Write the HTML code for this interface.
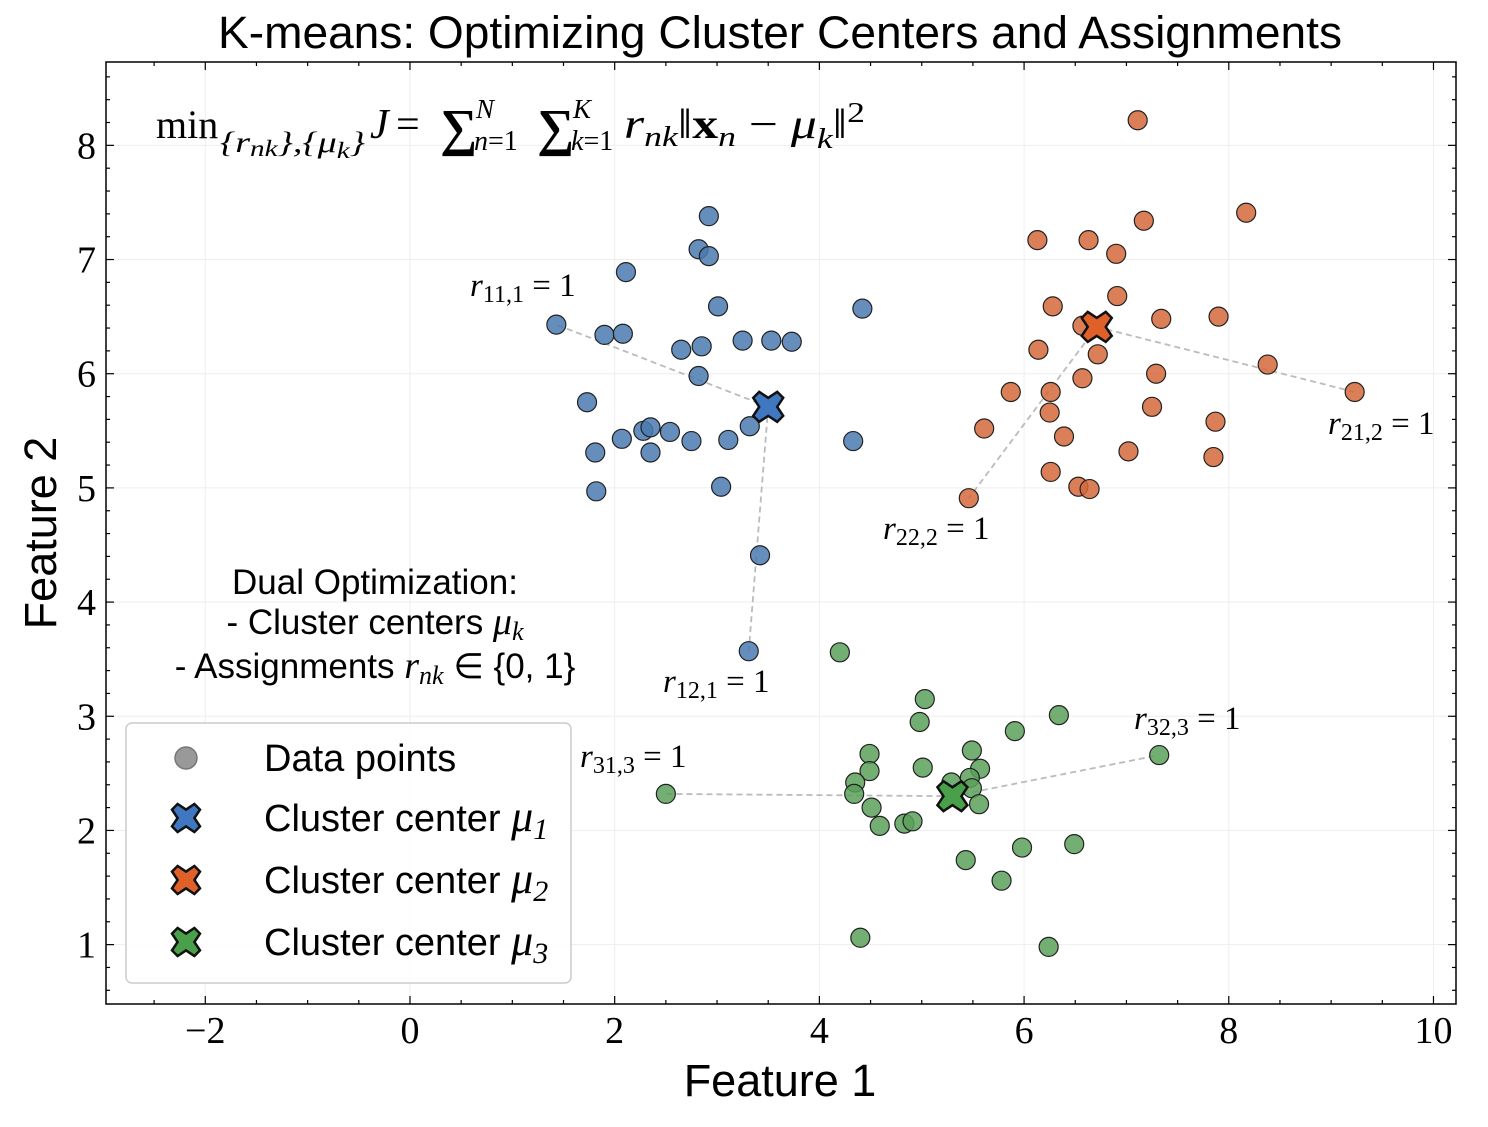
<!DOCTYPE html>
<html><head><meta charset="utf-8"><style>
body{margin:0;background:#fff}
svg text{font-family:"Liberation Serif",serif}
</style></head><body>
<svg id="chart" width="1488" height="1122" xmlns="http://www.w3.org/2000/svg">
<rect x="0" y="0" width="1488" height="1122" fill="#fff"/>
<text x="780" y="48" font-size="45" text-anchor="middle" style="font-family:'Liberation Sans',sans-serif" textLength="1124" lengthAdjust="spacingAndGlyphs">K-means: Optimizing Cluster Centers and Assignments</text>
<g id="grid"></g>
<g id="lines"></g>
<g id="pts"></g>
<g id="ctr"></g>
<g id="axes"></g>
<g id="ann"></g>
<g font-size="40">
<text x="156" y="138">min</text>
<text x="220" y="152" font-size="30" font-style="italic" textLength="145" lengthAdjust="spacingAndGlyphs">{r<tspan font-size="23" dy="4">nk</tspan><tspan dy="-4">},{μ</tspan><tspan font-size="23" dy="6">k</tspan><tspan dy="-6">}</tspan></text>
<text x="370" y="138" font-style="italic" font-size="42">J</text>
<text x="396" y="138" font-size="42">=</text>
<text x="440" y="145" font-size="52" font-weight="bold">∑</text>
<text x="476" y="118" font-size="27" font-style="italic">N</text>
<text x="474" y="150" font-size="28"><tspan font-style="italic">n</tspan>=1</text>
<text x="537" y="145" font-size="52" font-weight="bold">∑</text>
<text x="573" y="118" font-size="27" font-style="italic">K</text>
<text x="571" y="150" font-size="28"><tspan font-style="italic">k</tspan>=1</text>
<text x="624" y="138" font-size="42" textLength="241" lengthAdjust="spacingAndGlyphs"><tspan font-style="italic">r</tspan><tspan font-size="29" font-style="italic" dy="8">nk</tspan><tspan dy="-8">‖</tspan><tspan font-weight="bold">x</tspan><tspan font-size="29" font-style="italic" dy="8">n</tspan><tspan dy="-8"> − </tspan><tspan font-style="italic">μ</tspan><tspan font-size="29" font-style="italic" dy="10">k</tspan><tspan dy="-10">‖</tspan><tspan font-size="29" dy="-16">2</tspan></text>
</g>
<g font-size="35" text-anchor="middle">
<text x="375" y="594" style="font-family:'Liberation Sans',sans-serif">Dual Optimization:</text>
<text x="375" y="634" style="font-family:'Liberation Sans',sans-serif">- Cluster centers <tspan font-style="italic" style="font-family:'Liberation Serif',serif" font-size="38">μ<tspan font-size="26" dy="6">k</tspan></tspan></text>
<text x="375" y="678" style="font-family:'Liberation Sans',sans-serif">- Assignments <tspan font-style="italic" style="font-family:'Liberation Serif',serif" font-size="38">r<tspan font-size="26" dy="6">nk</tspan></tspan><tspan dy="-6"> ∈ {0, 1}</tspan></text>
</g>
<g>
<rect x="126" y="723" width="445" height="260" rx="6" fill="#fff" fill-opacity="0.85" stroke="#ccc" stroke-width="1.5"/>
<circle cx="186" cy="758" r="11" fill="#999" stroke="#777" stroke-width="1.5"/>
<text x="264" y="771" font-size="38" style="font-family:'Liberation Sans',sans-serif">Data points</text>
<g id="legx"></g>
</g>
<text x="780" y="1096" font-size="45" text-anchor="middle" style="font-family:'Liberation Sans',sans-serif">Feature 1</text>
<text transform="translate(56,533) rotate(-90)" font-size="45" text-anchor="middle" style="font-family:'Liberation Sans',sans-serif">Feature 2</text>
</svg>
<script>
const blueX=[1.43,2.92,2.82,2.92,2.11,3.01,1.90,2.08,2.65,2.85,3.25,3.53,3.73,4.42,2.82,1.73,2.28,2.35,2.54,2.07,2.75,3.11,3.32,1.81,2.35,4.33,1.82,3.04,3.42,3.31];
const blueY=[6.43,7.38,7.09,7.03,6.89,6.59,6.34,6.35,6.21,6.24,6.29,6.29,6.28,6.57,5.98,5.75,5.50,5.53,5.49,5.43,5.41,5.42,5.54,5.31,5.31,5.41,4.97,5.01,4.41,3.57];
const orangeX=[7.11,7.17,8.17,6.13,6.63,6.90,6.91,6.28,6.57,6.72,7.34,7.90,6.14,8.38,9.23,6.57,7.29,5.87,6.26,6.25,7.25,7.87,5.61,6.39,7.02,7.85,6.26,6.53,6.64,5.46];
const orangeY=[8.22,7.34,7.41,7.17,7.17,7.05,6.68,6.59,6.42,6.17,6.48,6.50,6.21,6.08,5.84,5.96,6.00,5.84,5.84,5.66,5.71,5.58,5.52,5.45,5.32,5.27,5.14,5.01,4.99,4.91];
const greenX=[4.20,5.03,6.34,4.98,5.91,4.49,5.49,7.32,5.01,5.57,4.49,5.47,4.35,5.29,5.49,2.50,4.34,5.56,4.51,4.59,4.83,4.91,5.98,6.49,5.43,5.78,4.40,6.24];
const greenY=[3.56,3.15,3.01,2.95,2.87,2.67,2.70,2.66,2.55,2.54,2.52,2.46,2.42,2.42,2.37,2.32,2.32,2.23,2.20,2.04,2.06,2.08,1.85,1.88,1.74,1.56,1.06,0.98];
const centersX=[3.50,6.71,5.30];
const centersY=[5.71,6.41,2.30];
const xTicks=[-2,0,2,4,6,8,10];
const yTicks=[1,2,3,4,5,6,7,8];
const annTargets=[[0,0],[0,29],[1,14],[1,29],[2,15],[2,7]];
const annLabels=[["11,1",470,296],["12,1",663,692],["21,2",1328,434],["22,2",883,539],["31,3",580,767],["32,3",1134,729]];
const X0=106,X1=1456,Y0=62,Y1=1004,xmin=-2.97,xmax=10.22,ymin=0.48,ymax=8.73;
const sx=v=>X0+(v-xmin)/(xmax-xmin)*(X1-X0);
const sy=v=>Y1-(v-ymin)/(ymax-ymin)*(Y1-Y0);
const NS="http://www.w3.org/2000/svg";
function mk(p,t,a){const e=document.createElementNS(NS,t);for(const k in a)e.setAttribute(k,a[k]);document.getElementById(p).appendChild(e);return e;}
const fills=["#4a7ab0","#d4683a","#5aa05a"],cfills=["#3f78c0","#e0602a","#4aa04a"];
xTicks.forEach(v=>{const e=mk('grid','line',{x1:sx(v),x2:sx(v),y1:Y0,y2:Y1,stroke:'#eee','stroke-width':1});

});
yTicks.forEach(v=>{const e=mk('grid','line',{x1:X0,x2:X1,y1:sy(v),y2:sy(v),stroke:'#eee','stroke-width':1});

});
const sets=[[blueX,blueY],[orangeX,orangeY],[greenX,greenY]];
annTargets.forEach(([c,i])=>{const e=mk('lines','line',{x1:sx(centersX[c]),y1:sy(centersY[c]),x2:sx(sets[c][0][i]),y2:sy(sets[c][1][i]),stroke:'#bbb','stroke-width':1.8,'stroke-dasharray':'6,4'});

});
sets.forEach(([xs,ys],c)=>xs.forEach((x,i)=>{const e=mk('pts','circle',{cx:sx(x),cy:sy(ys[i]),r:9.5,fill:fills[c],'fill-opacity':0.85,stroke:'#222','stroke-width':1.2});

}));
function xmark(p,cx,cy,s,fill){const d=`M${-s},${-s+s*0.4}L${-s+s*0.4},${-s}L0,${-s*0.6}L${s-s*0.4},${-s}L${s},${-s+s*0.4}L${s*0.6},0L${s},${s-s*0.4}L${s-s*0.4},${s}L0,${s*0.6}L${-s+s*0.4},${s}L${-s},${s-s*0.4}L${-s*0.6},0Z`;
return mk(p,'path',{d,transform:`translate(${cx},${cy})`,fill,stroke:'#111','stroke-width':2.5,'stroke-linejoin':'miter'});}
centersX.forEach((x,c)=>{const e=xmark('ctr',sx(x),sy(centersY[c]),15,cfills[c]);

});
[0,1,2].forEach(c=>{const cy=818+c*62;const e=xmark('legx',186,cy,14,cfills[c]);


const t=mk('legx','text',{x:264,y:cy+13,'font-size':38,style:"font-family:'Liberation Sans',sans-serif"});


t.innerHTML=`Cluster center <tspan font-style="italic" style="font-family:'Liberation Serif',serif" font-size="44">μ<tspan font-size="30" dy="8">${c+1}</tspan></tspan>`;});
const fr=mk('axes','rect',{x:X0,y:Y0,width:X1-X0,height:Y1-Y0,fill:'none',stroke:'#000','stroke-width':1.5});


for(let v=-2.5;v<=10.01;v+=0.5){const major=xTicks.includes(v);const L=major?8:4;
mk('axes','line',{x1:sx(v),x2:sx(v),y1:Y1,y2:Y1-L,stroke:'#000','stroke-width':1.2});
mk('axes','line',{x1:sx(v),x2:sx(v),y1:Y0,y2:Y0+L,stroke:'#000','stroke-width':1.2});}
for(let v=0.6;v<=8.61;v+=0.2){const r=Math.round(v*10)/10;const major=yTicks.includes(r);const L=major?8:4;
mk('axes','line',{x1:X0,x2:X0+L,y1:sy(r),y2:sy(r),stroke:'#000','stroke-width':1.2});
mk('axes','line',{x1:X1,x2:X1-L,y1:sy(r),y2:sy(r),stroke:'#000','stroke-width':1.2});}
xTicks.forEach(v=>{const t=mk('axes','text',{x:sx(v),y:1043,'font-size':38,'text-anchor':'middle'});t.textContent=v<0?'−'+(-v):v;

});
yTicks.forEach(v=>{const t=mk('axes','text',{x:96,y:sy(v)+13,'font-size':38,'text-anchor':'end'});t.textContent=v;

});
annLabels.forEach(([s,x,y])=>{const t=mk('ann','text',{x,y,'font-size':33});


t.innerHTML=`<tspan font-style="italic">r</tspan><tspan font-size="24" dy="6">${s}</tspan><tspan dy="-6"> = 1</tspan>`;});
</script>
</body></html>
